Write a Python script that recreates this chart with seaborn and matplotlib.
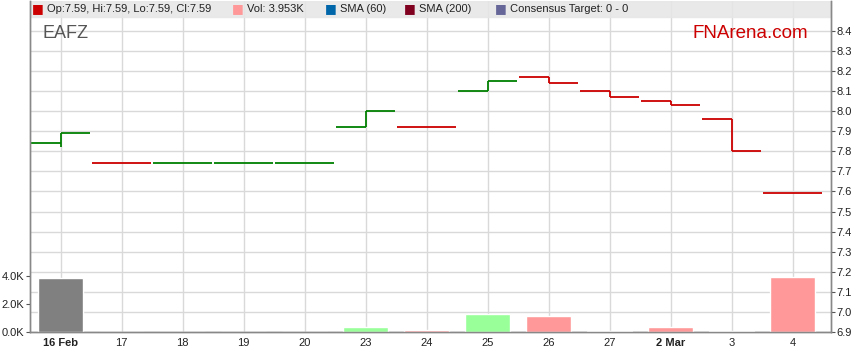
import matplotlib
matplotlib.use("Agg")
import matplotlib.pyplot as plt
import seaborn as sns
import numpy as np
import pandas as pd

days = ["16 Feb", "17", "18", "19", "20", "23", "24", "25", "26", "27", "2 Mar", "3", "4"]
opens = [7.84, 7.74, 7.74, 7.74, 7.74, 7.92, 7.92, 8.10, 8.17, 8.10, 8.05, 7.96, 7.59]
closes = [7.89, 7.74, 7.74, 7.74, 7.74, 8.00, 7.92, 8.15, 8.14, 8.07, 8.03, 7.80, 7.59]
highs = [7.89, 7.74, 7.74, 7.74, 7.74, 8.00, 7.92, 8.15, 8.17, 8.10, 8.05, 7.96, 7.59]
lows = [7.82, 7.74, 7.74, 7.74, 7.74, 7.92, 7.92, 8.10, 8.14, 8.07, 8.03, 7.80, 7.59]
volume_k = [3.85, 0, 0, 0, 0, 0.36, 0.14, 1.31, 1.14, 0.07, 0.36, 0.07, 3.953]
price_ticks = [6.9, 7.0, 7.1, 7.2, 7.3, 7.4, 7.5, 7.6, 7.7, 7.8, 7.9, 8.0, 8.1, 8.2, 8.3, 8.4]
vol_ticks = [0, 2, 4]
bold_days = ["16 Feb", "2 Mar"]

plt.rcParams['font.family'] = ['Liberation Sans', 'DejaVu Sans']
sns.set_style("white")
plt.rcParams['font.family'] = ['Liberation Sans', 'DejaVu Sans']

GREEN, RED = "#008000", "#cc0000"
up = [True] + [c >= p for c, p in zip(closes[1:], closes[:-1])]
line_cols = [GREEN if u else RED for u in up]
bar_cols = ["#808080"] + ["#99ff99" if u else "#ff9999" for u in up[1:]]

fig = plt.figure(figsize=(8.59, 3.63), dpi=100)
ax = fig.add_axes([30 / 859, 31 / 363, 801 / 859, 331 / 363])
axv = ax.twinx()

# volume bars (left axis)
vdf = pd.DataFrame({"day": days, "vol": volume_k})
sns.barplot(data=vdf, x="day", y="vol", hue="day", palette=bar_cols, legend=False,
            width=0.73, saturation=1, ax=axv)
axv.set_ylim(0, 331 / 28 * 2)
axv.yaxis.tick_left()
axv.yaxis.set_label_position("left")
axv.set_yticks(vol_ticks)
axv.set_yticklabels([f"{v:.1f}K" for v in vol_ticks])
axv.set_ylabel("")
axv.set_xlabel("")

# price step candles (right axis)
x = np.arange(len(days))
ax.hlines(opens, x - 0.48, x, colors=line_cols, lw=1.3)
ax.hlines(closes, x, x + 0.48, colors=line_cols, lw=1.3)
ax.vlines(x, lows, highs, colors=line_cols, lw=1.3)

ax.set_xlim(-0.5, 12.63)
axv.set_xlim(-0.5, 12.63)
ax.set_ylim(6.9, 6.9 + 331 / 200.8)
ax.yaxis.tick_right()
ax.set_yticks(price_ticks)
ax.set_yticklabels([f"{t:.1f}" for t in price_ticks])
ax.set_xticks(x)
ax.set_xticklabels(days)
for lab in ax.get_xticklabels():
    if lab.get_text() in bold_days:
        lab.set_fontweight("bold")
ax.grid(True, color="#d9d9d9", lw=1)
ax.set_axisbelow(True)
ax.tick_params(axis="y", labelsize=8, length=3, color="#555555", pad=1, labelcolor="#222222")
ax.tick_params(axis="x", labelsize=8, length=0, pad=4, labelcolor="#222222")
axv.tick_params(axis="y", labelsize=8, length=3, color="#555555", pad=1, labelcolor="#222222")
axv.tick_params(axis="x", length=0, labelbottom=False)
ax.set_zorder(axv.get_zorder() - 1)
axv.patch.set_visible(False)
ax.patch.set_facecolor("white")

for a in (ax, axv):
    for s in a.spines.values():
        s.set_color("#888888")
        s.set_linewidth(1)
    a.spines["top"].set_visible(False)

# legend band
ax.axhspan(6.9 + 315 / 200.8, 6.9 + 331 / 200.8, color="#e6e6e6", alpha=0.85, zorder=1)
legend_items = [
    (38, "#cc0000", "Op:7.59, Hi:7.59, Lo:7.59, Cl:7.59"),
    (238, "#ff9999", "Vol: 3.953K"),
    (331, "#0066aa", "SMA (60)"),
    (410, "#800020", "SMA (200)"),
    (501, "#666699", "Consensus Target: 0 - 0"),
]
for px, col, txt in legend_items:
    fig.text(px / 859, 1 - 9 / 363, "\u25a0", color=col, fontsize=9, va="center", ha="center",
             family=['DejaVu Sans'])
    fig.text((px + 9) / 859, 1 - 9 / 363, txt, color="#222222", fontsize=8, va="center")

fig.text(42 / 859, 1 - 34 / 363, "EAFZ", color="#555555", fontsize=13, va="center")
fig.text(808 / 859, 1 - 33 / 363, "FNArena.com", color="#cc0000", fontsize=13.5,
         va="center", ha="right")

fig.savefig("out.png", dpi=100)
